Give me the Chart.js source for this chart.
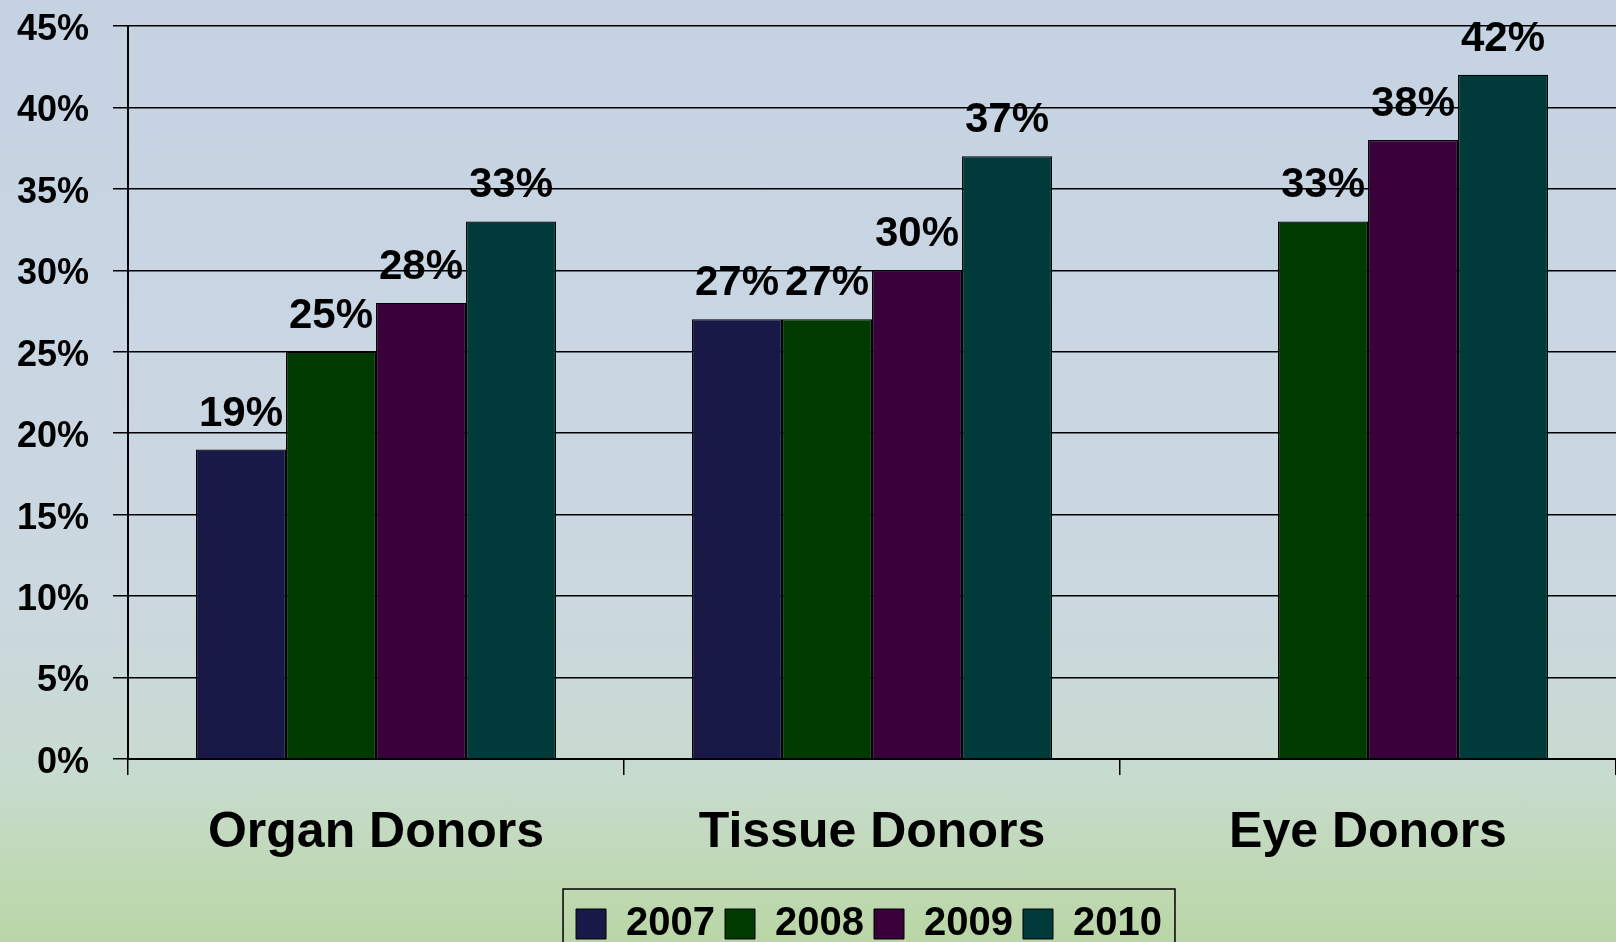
<!DOCTYPE html>
<html>
<head>
<meta charset="utf-8">
<script src="https://cdn.jsdelivr.net/npm/chart.js@4.4.0/dist/chart.umd.min.js"></script>
<style>
  html, body { margin: 0; padding: 0; }
  body {
    width: 1616px; height: 942px; overflow: hidden;
    background: linear-gradient(to bottom, #c4d2e2 0%, #c9d6e3 35%, #cbd8df 65%, #c8dbcf 82%, #bed8b0 95%, #b9d6a6 100%);
  }
  #wrap { position: relative; width: 1616px; height: 942px; }
</style>
</head>
<body>
<div id="wrap"><canvas id="myChart" width="1616" height="942"></canvas></div>
<script>
let categories = ['Organ Donors', 'Tissue Donors', 'Eye Donors'];
let years = ['2007', '2008', '2009', '2010'];
let data2007 = [19, 27, null];
let data2008 = [25, 27, 33];
let data2009 = [28, 30, 38];
let data2010 = [33, 37, 42];
let colors = ['#191947', '#003a00', '#3a003a', '#003a3a'];
let yTicks = [0, 5, 10, 15, 20, 25, 30, 35, 40, 45];

const FONT = "'Liberation Sans', Arial, sans-serif";
const AREA_BOTTOM = 759;

// value labels above the bars
const barLabels = {
    id: 'barLabels',
    afterDatasetsDraw(chart) {
        const ctx = chart.ctx;
        ctx.save();
        ctx.font = `bold 42px ${FONT}`;
        ctx.fillStyle = '#000';
        ctx.textAlign = 'center';
        ctx.textBaseline = 'alphabetic';
        chart.data.datasets.forEach((ds, i) => {
            const meta = chart.getDatasetMeta(i);
            meta.data.forEach((bar, j) => {
                if (ds.data[j] == null) return;
                ctx.fillText(ds.data[j] + '%', bar.x, bar.y - 24);
            });
        });
        ctx.restore();
    }
};

// move the legend where the original one sits, and frame it
const legendFrame = {
    id: 'legendFrame',
    afterUpdate(chart) {
        const lg = chart.legend;
        const boxes = lg.legendHitBoxes;
        if (!boxes || !boxes.length) return;
        const first = boxes[0], last = boxes[boxes.length - 1];
        const cx = (first.left + last.left + last.width) / 2;
        const cy = first.top + first.height / 2;
        const dx = 869 - cx, dy = 924 - cy;
        lg.left += dx; lg.right += dx; lg.top += dy; lg.bottom += dy;
        boxes.forEach(b => { b.left += dx; b.top += dy; });
    },
    afterDraw(chart) {
        const boxes = chart.legend.legendHitBoxes;
        if (!boxes || !boxes.length) return;
        const first = boxes[0], last = boxes[boxes.length - 1];
        const cy = first.top + first.height / 2;
        const ctx = chart.ctx;
        ctx.save();
        ctx.strokeStyle = '#000';
        ctx.lineWidth = 1.5;
        ctx.strokeRect(first.left - 13, cy - 35, last.left + last.width - first.left + 26, 90);
        ctx.restore();
    }
};

const ctx = document.getElementById('myChart');
var chart = new Chart(ctx, {
    type: 'bar',
    data: {
        labels: categories,
        datasets: [
            { label: years[0], data: data2007, backgroundColor: colors[0] },
            { label: years[1], data: data2008, backgroundColor: colors[1] },
            { label: years[2], data: data2009, backgroundColor: colors[2] },
            { label: years[3], data: data2010, backgroundColor: colors[3] },
        ].map(d => Object.assign(d, { borderColor: '#000', borderWidth: 1.2, barPercentage: 1, categoryPercentage: 0.726 }))
    },
    options: {
        responsive: false,
        animation: false,
        layout: { padding: { top: 26, right: 0, left: 0, bottom: 0 } },
        scales: {
            x: {
                offset: true,
                grid: { display: true, drawOnChartArea: false, offset: true, color: '#000', lineWidth: 1.5, tickLength: 16 },
                border: { color: '#000', width: 2 },
                ticks: { color: '#000', font: { family: FONT, size: 50, weight: 'bold' }, padding: 28, maxRotation: 0 },
                afterFit: s => {
                    s.height = 942 - AREA_BOTTOM - (s.chart.legend ? s.chart.legend.height : 0);
                    s.paddingLeft = 0; s.paddingRight = 0;
                }
            },
            y: {
                min: 0, max: 45,
                afterBuildTicks: s => { s.ticks = yTicks.map(v => ({ value: v })); },
                grid: { color: '#000', lineWidth: 1.5, tickLength: 15 },
                border: { color: '#000', width: 2 },
                ticks: { color: '#000', font: { family: FONT, size: 36, weight: 'bold' }, padding: 24, labelOffset: 4, callback: v => v + '%' },
                afterFit: s => { s.width = 128; s.paddingTop = 0; s.paddingBottom = 0; }
            }
        },
        plugins: {
            legend: {
                position: 'bottom',
                labels: {
                    color: '#000',
                    font: { family: FONT, size: 40, weight: 'bold' },
                    boxWidth: 30, boxHeight: 30, padding: 10,
                    generateLabels: c => c.data.datasets.map((d, i) => ({
                        text: d.label, fillStyle: colors[i], strokeStyle: '#000', lineWidth: 1, datasetIndex: i, fontColor: '#000'
                    }))
                }
            },
            tooltip: { enabled: false }
        }
    },
    plugins: [barLabels, legendFrame]
});
</script>
</body>
</html>
